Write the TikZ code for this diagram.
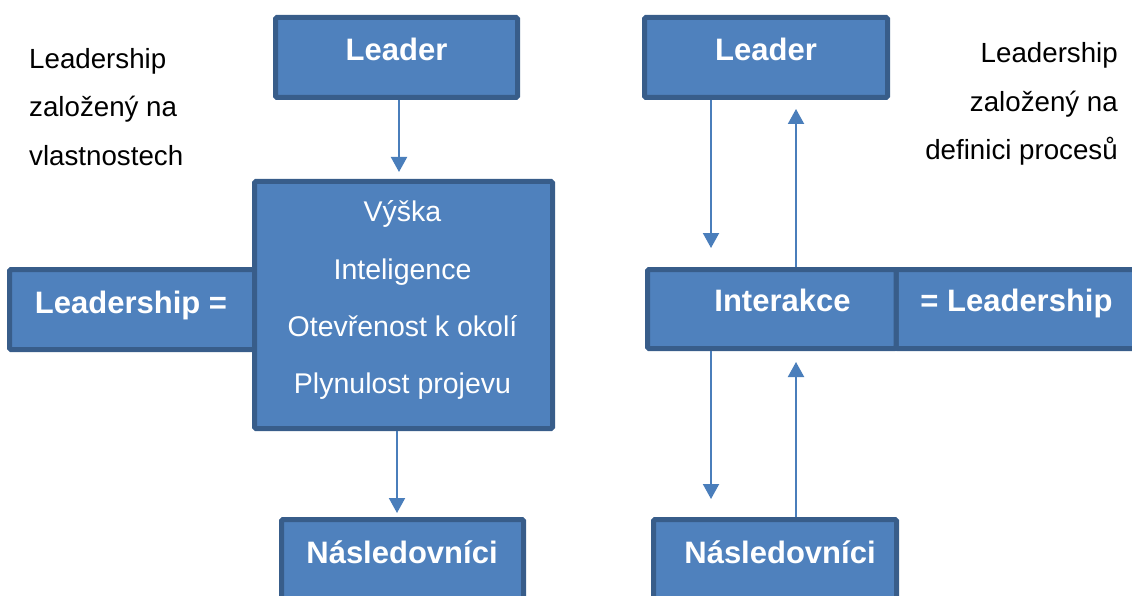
\documentclass[tikz,border=0pt]{standalone}
\usepackage{fontspec}
\setmainfont{Liberation Sans}
\usetikzlibrary{arrows.meta}
\definecolor{boxfill}{HTML}{4F81BD}
\definecolor{boxline}{HTML}{385D8A}
\definecolor{arrowcol}{HTML}{4A7EBB}
\tikzset{
  blockbox/.style={draw=boxline, fill=boxfill, line width=5pt, rounded corners=1.5pt,
    inner sep=0pt, outer sep=0.5\pgflinewidth},
  headtext/.style={text=white, inner sep=0pt, anchor=base,
    font=\fontsize{31}{36}\selectfont\bfseries},
  itemtext/.style={text=white, inner sep=0pt, anchor=base,
    font=\fontsize{28.5}{34}\selectfont},
  sidetext/.style={text=black, inner sep=0pt,
    font=\fontsize{27.7}{33}\selectfont},
  flow/.style={draw=arrowcol, line width=2pt, -{Triangle[width=16pt,length=15pt]}}
}
\begin{document}
\begin{tikzpicture}[x=1pt,y=-1pt]
\useasboundingbox (0,0) rectangle (1132,596);

% left column: trait-based view
\node[blockbox, minimum width=242pt, minimum height=80pt] (lead1) at (396.5,57.5) {};
\node[blockbox, minimum width=251pt, minimum height=80pt] (eqbox) at (135,309.5) {};
\node[blockbox, minimum width=298pt, minimum height=247pt] (traits) at (403.5,305) {};
\node[blockbox, minimum width=242pt, minimum height=80pt] (foll1) at (402.5,559.5) {};

\node[headtext] (lead1t) at (396.5,61) {Leader};
\node[headtext] (eqt) at (131,313) {Leadership =};
\node[itemtext] (tr1) at (402.5,222) {Výška};
\node[itemtext] (tr2) at (402.5,279) {Inteligence};
\node[itemtext] (tr3) at (402.5,336) {Otevřenost k okolí};
\node[itemtext] (tr4) at (402.5,393) {Plynulost projevu};
\node[headtext] (foll1t) at (402,563) {Následovníci};

\node[sidetext, anchor=base west] (ls1) at (29,69) {Leadership};
\node[sidetext, anchor=base west] (ls2) at (29,117) {založený na};
\node[sidetext, anchor=base west] (ls3) at (29,166) {vlastnostech};

\draw[flow] ([xshift=2.5pt]lead1.south) -- ([xshift=2.5pt,yshift=7pt]lead1.south |- traits.north);
\draw[flow] ([xshift=-6.5pt]traits.south) -- ([xshift=-6.5pt,yshift=4pt]traits.south |- foll1.north);

% right column: process-based view
\node[blockbox, minimum width=243pt, minimum height=80pt] (lead2) at (766,57.5) {};
\node[blockbox, minimum width=254pt, minimum height=79pt] (result) at (1023,309) {};
\node[blockbox, minimum width=248.5pt, minimum height=79pt] (inter) at (771.75,309) {};
\node[blockbox, minimum width=243pt, minimum height=80pt] (foll2) at (775,559.5) {};

\node[headtext] (lead2t) at (766,61) {Leader};
\node[headtext] (intert) at (782.5,311) {Interakce};
\node[headtext] (resultt) at (1016.5,311) {= Leadership};
\node[headtext] (foll2t) at (780,563) {Následovníci};

\node[sidetext, anchor=base east] (rs1) at (1118,63) {Leadership};
\node[sidetext, anchor=base east] (rs2) at (1118,112) {založený na};
\node[sidetext, anchor=base east] (rs3) at (1118,160) {definici procesů};

\coordinate (dnx) at (711,0);
\coordinate (upx) at (796,0);
\draw[flow] (dnx |- lead2.south) -- ([yshift=19pt]dnx |- inter.north);
\draw[flow] (upx |- inter.north) -- ([yshift=-9pt]upx |- lead2.south);
\draw[flow] (dnx |- inter.south) -- ([yshift=18pt]dnx |- foll2.north);
\draw[flow] (upx |- foll2.north) -- ([yshift=-11pt]upx |- inter.south);
\end{tikzpicture}
\end{document}
